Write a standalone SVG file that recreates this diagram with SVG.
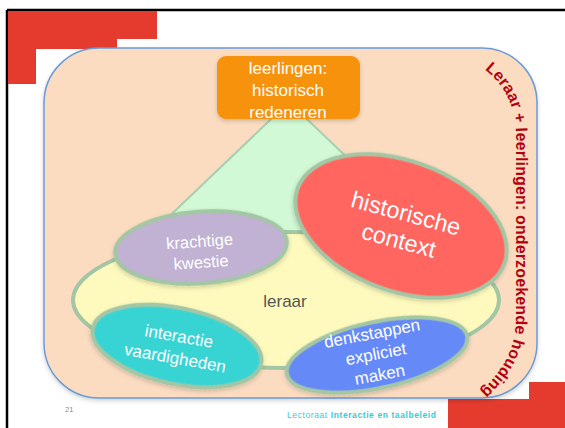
<svg xmlns="http://www.w3.org/2000/svg" width="565" height="428" viewBox="0 0 565 428">
<defs>
<style>
.t{font-family:"Liberation Sans",Arial,sans-serif;fill:#ffffff;text-anchor:middle}
.ell{stroke:#a3c6a4;stroke-width:4}
.red{fill:#e53b2f}
</style>
<filter id="sh" x="-10%" y="-10%" width="120%" height="130%">
<feDropShadow dx="0" dy="2" stdDeviation="2" flood-color="#000" flood-opacity="0.18"/>
</filter>
<path id="arcText" d="M 474,62 C 498,76 516,100 516,135 L 516,318 C 516,348 504,370 478,394"/>
</defs>
<rect x="0" y="0" width="565" height="428" fill="#ffffff"/>
<path d="M7,10 H565 M7,10 V428" stroke="#000" stroke-width="2.5" fill="none"/>
<g id="deco">
<path class="red" d="M8,11 H157 V39 H117 V49 H36 V84 H8 Z"/>
<path class="red" d="M529,382 H565 V428 H448 V399 H529 Z"/>
</g>
<g id="frame">
<rect x="44" y="48" width="493" height="350" rx="55" ry="55" fill="#fbdcc1" stroke="#6b9bd6" stroke-width="1.5" filter="url(#sh)"/>
</g>
<g id="triangle">
<polygon points="289,102 465,270 113,270" fill="#d2f9d5" stroke="#a8cfae" stroke-width="2"/>
</g>
<g id="leraar">
<ellipse cx="286" cy="300" rx="213" ry="68" fill="#fefabd" class="ell"/>
<text class="t" x="285" y="307" font-size="17" style="fill:#555555">leraar</text>
</g>
<g id="top">
<rect x="217" y="56" width="143" height="63" rx="9" ry="9" fill="#f7920b" filter="url(#sh)"/>
<text class="t" x="288" y="74" font-size="17">leerlingen:</text>
<text class="t" x="288" y="96" font-size="17">historisch</text>
<text class="t" x="288" y="118" font-size="17">redeneren</text>
</g>
<g id="kwestie">
<ellipse cx="201" cy="247.5" rx="86" ry="36" transform="rotate(-4 201 247.5)" fill="#c1b1d2" class="ell" filter="url(#sh)"/>
<g transform="rotate(-4 200 247)">
<text class="t" x="200" y="247" font-size="16.5">krachtige</text>
<text class="t" x="200" y="268" font-size="16.5">kwestie</text>
</g>
</g>
<g id="context">
<ellipse cx="401" cy="226" rx="110" ry="65" transform="rotate(20 401 226)" fill="#ff6660" class="ell" filter="url(#sh)"/>
<g transform="rotate(15 404 221)">
<text class="t" x="404" y="221" font-size="23.5">historische</text>
<text class="t" x="404" y="249" font-size="23.5">context</text>
</g>
</g>
<g id="interactie">
<ellipse cx="177" cy="346" rx="86" ry="38" transform="rotate(12 177 346)" fill="#39d4d4" class="ell" filter="url(#sh)"/>
<g transform="rotate(10 178 342)">
<text class="t" x="178" y="342" font-size="17">interactie</text>
<text class="t" x="178" y="364" font-size="17">vaardigheden</text>
</g>
</g>
<g id="denkstappen">
<ellipse cx="377" cy="355" rx="92" ry="33" transform="rotate(-12 377 355)" fill="#6689f8" class="ell" filter="url(#sh)"/>
<g transform="rotate(-10.7 373 339)">
<text class="t" x="373" y="339" font-size="17">denkstappen</text>
<text class="t" x="373" y="360" font-size="17">expliciet</text>
<text class="t" x="373" y="381" font-size="17">maken</text>
</g>
</g>
<g id="houding">
<text font-family="Liberation Sans, Arial, sans-serif" font-weight="bold" font-size="16" fill="#b5000f"><textPath href="#arcText" startOffset="13" textLength="343" lengthAdjust="spacing">Leraar + leerlingen: onderzoekende houding</textPath></text>
</g>
<g id="footer">
<text x="65" y="412" font-family="Liberation Sans, Arial, sans-serif" font-size="7.5" fill="#8a8a8a">21</text>
<text x="287" y="418" font-family="Liberation Sans, Arial, sans-serif" font-size="8.5" fill="#3cc9d2" textLength="149" lengthAdjust="spacing">Lectoraat <tspan font-weight="bold">Interactie en taalbeleid</tspan></text>
</g>
</svg>
